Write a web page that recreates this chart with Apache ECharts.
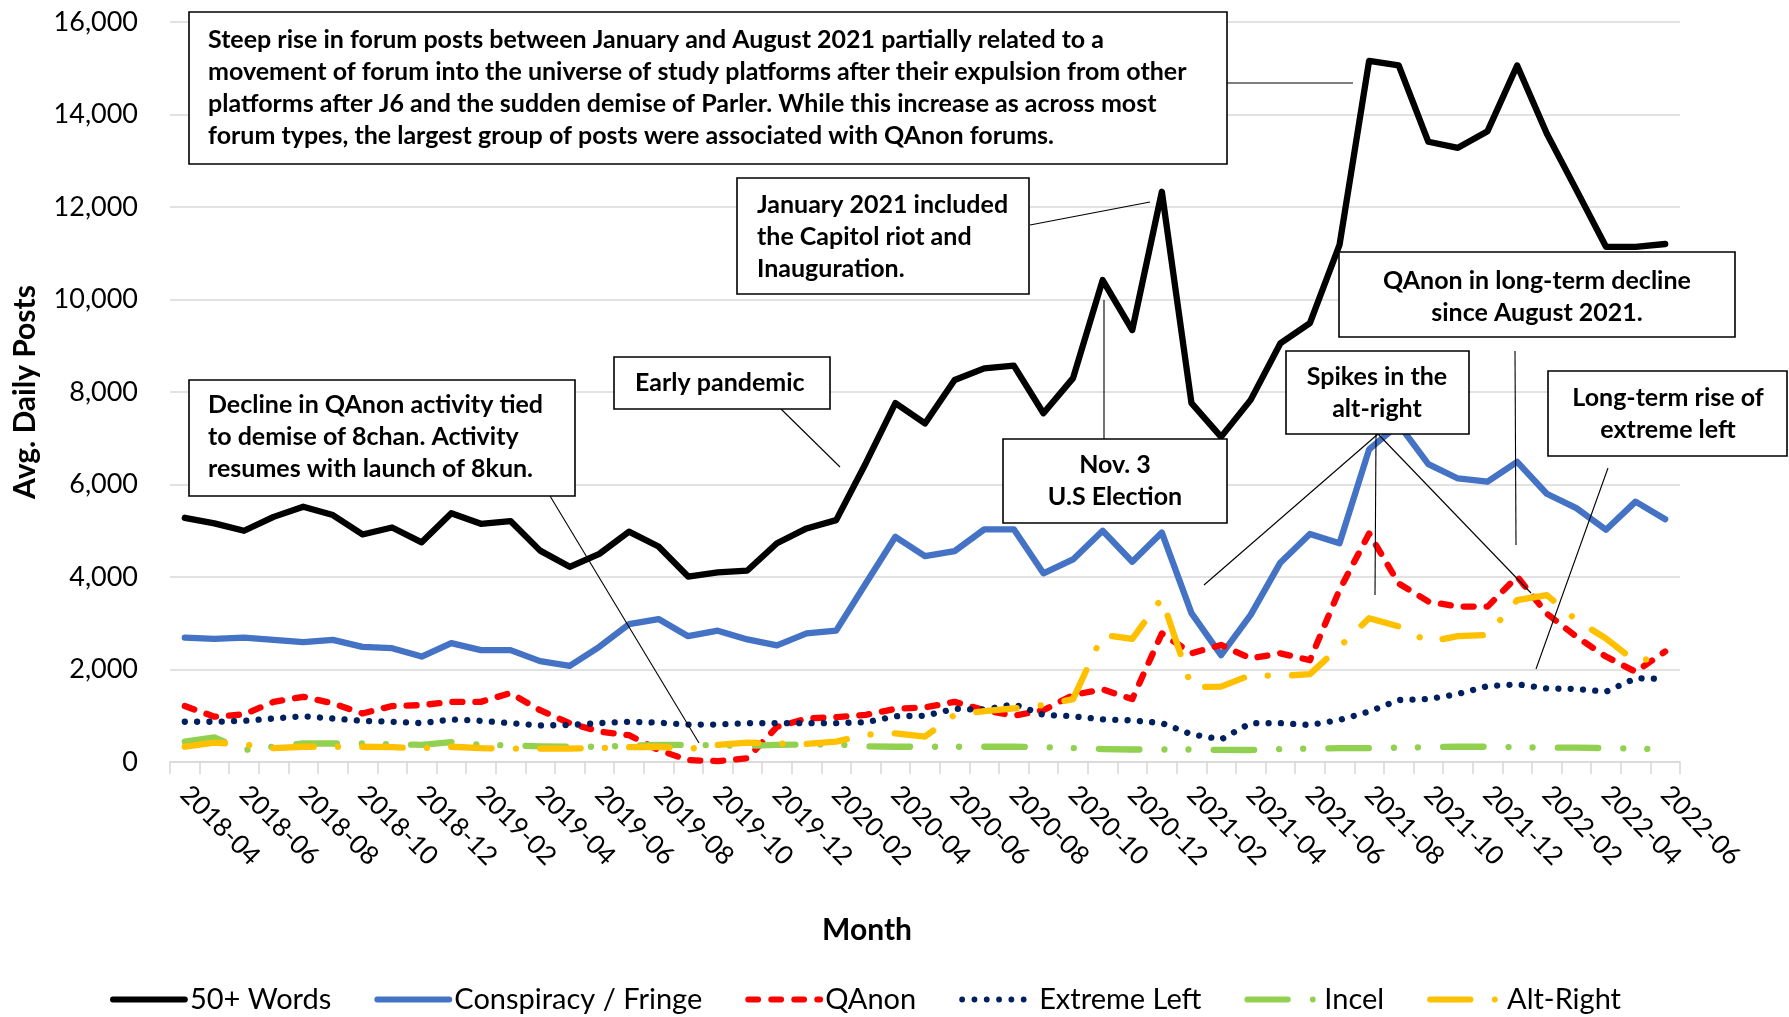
<!DOCTYPE html>
<html>
<head>
<meta charset="utf-8">
<title>Avg. Daily Posts by Month</title>
<script src="https://cdn.jsdelivr.net/npm/echarts@6/dist/echarts.min.js"></script>
<style>
    html, body { margin: 0; padding: 0; background: #fff; }
    #main { width: 1789px; height: 1017px; }
</style>
</head>
<body>
<div id="main"></div>
<script>
// categories: one per month
var months = [
    '2018-04', '2018-05', '2018-06', '2018-07', '2018-08', '2018-09', '2018-10', '2018-11', '2018-12',
    '2019-01', '2019-02', '2019-03', '2019-04', '2019-05', '2019-06', '2019-07', '2019-08', '2019-09',
    '2019-10', '2019-11', '2019-12', '2020-01', '2020-02', '2020-03', '2020-04', '2020-05', '2020-06',
    '2020-07', '2020-08', '2020-09', '2020-10', '2020-11', '2020-12', '2021-01', '2021-02', '2021-03',
    '2021-04', '2021-05', '2021-06', '2021-07', '2021-08', '2021-09', '2021-10', '2021-11', '2021-12',
    '2022-01', '2022-02', '2022-03', '2022-04', '2022-05', '2022-06'
];

// avg. daily posts per series
var words50 = [5280, 5160, 5000, 5300, 5520, 5340, 4920, 5070, 4750, 5380, 5150, 5210, 4570, 4220, 4500, 4980, 4660,
    4010, 4100, 4140, 4730, 5050, 5230, 6460, 7760, 7320, 8260, 8510, 8570, 7540, 8300, 10420, 9340, 12330, 7760,
    7030, 7830, 9050, 9490, 11180, 15160, 15060, 13410, 13280, 13640, 15060, 13590, 12370, 11140, 11140, 11200];
var conspiracy = [2690, 2660, 2690, 2640, 2590, 2640, 2490, 2460, 2280, 2570, 2420, 2420, 2180, 2080, 2490, 2980, 3090,
    2720, 2840, 2650, 2520, 2780, 2840, 3860, 4870, 4450, 4560, 5030, 5030, 4080, 4380, 5000, 4330, 4960, 3220,
    2310, 3180, 4310, 4930, 4730, 6760, 7300, 6440, 6130, 6060, 6490, 5800, 5490, 5020, 5630, 5250];
var qanon = [1210, 980, 1030, 1300, 1410, 1270, 1050, 1210, 1230, 1300, 1300, 1490, 1120, 840, 660, 580, 260,
    40, 20, 80, 760, 940, 970, 1020, 1150, 1180, 1300, 1120, 1000, 1120, 1450, 1570, 1360, 2780, 2350,
    2530, 2240, 2350, 2200, 3720, 4940, 3860, 3470, 3360, 3360, 4010, 3210, 2710, 2280, 1950, 2390];
var extremeLeft = [870, 870, 890, 940, 990, 940, 890, 870, 840, 920, 890, 840, 790, 800, 840, 870, 850,
    810, 810, 840, 840, 840, 840, 860, 990, 1000, 1150, 1130, 1250, 1020, 990, 920, 900, 840, 600,
    490, 840, 840, 800, 910, 1090, 1340, 1360, 1470, 1640, 1680, 1590, 1580, 1520, 1810, 1800];
var incel = [440, 530, 260, 330, 400, 400, 400, 380, 370, 430, 370, 360, 340, 330, 330, 350, 370,
    370, 360, 350, 370, 380, 380, 340, 330, 330, 330, 330, 330, 320, 300, 280, 270, 270, 270,
    260, 260, 280, 290, 300, 300, 310, 320, 330, 330, 320, 310, 310, 300, 290, 270];
var altRight = [330, 420, 380, 300, 330, 330, 330, 320, 300, 330, 300, 290, 290, 290, 300, 320, 330,
    280, 370, 420, 400, 390, 440, 590, 620, 550, 1020, 1100, 1160, 1230, 1360, 2750, 2660, 3540, 1620,
    1630, 1880, 1860, 1900, 2490, 3110, 2930, 2600, 2720, 2750, 3500, 3610, 3070, 2670, 2170, 2300];

var yTicks = [0, 2000, 4000, 6000, 8000, 10000, 12000, 14000, 16000];

var FONT = 'Lato, "Noto Sans", sans-serif';
var LINE_W = 6.3;

function lineSeries(name, data, color, dash) {
    return {
        name: name,
        type: 'line',
        data: data,
        symbol: 'none',
        smooth: false,
        lineStyle: { color: color, width: LINE_W, type: dash, cap: 'round', join: 'round' },
        itemStyle: { color: color }
    };
}

function box(x, y, w, h) {
    return {
        type: 'rect', z: 100,
        shape: { x: x, y: y, width: w, height: h },
        style: { fill: '#fff', stroke: '#000', lineWidth: 1.6 }
    };
}

function note(x, y, text, align) {
    return {
        type: 'text', z: 101, x: x, y: y,
        style: {
            text: text, fill: '#000', fontFamily: FONT, fontWeight: 'bold', fontSize: 25,
            lineHeight: 32, align: align, verticalAlign: 'middle'
        }
    };
}

function leader(x1, y1, x2, y2) {
    return {
        type: 'line', z: 99,
        shape: { x1: x1, y1: y1, x2: x2, y2: y2 },
        style: { stroke: '#000', lineWidth: 1.1 }
    };
}

var myChart = echarts.init(document.getElementById('main'));

var option = {
    backgroundColor: '#fff',
    animation: false,
    textStyle: { fontFamily: FONT },
    grid: { left: 170, right: 109, top: 22, bottom: 255 },
    legend: {
        left: 105, top: 980,
        itemWidth: 72, itemHeight: 20, itemGap: 43,
        itemStyle: { opacity: 0 },
        lineStyle: { width: 5.8 },
        textStyle: { fontSize: 29, color: '#000', fontFamily: FONT },
        data: ['50+ Words', 'Conspiracy / Fringe', 'QAnon', 'Extreme Left', 'Incel', 'Alt-Right']
    },
    xAxis: {
        type: 'category',
        data: months,
        boundaryGap: true,
        axisLine: { lineStyle: { color: '#d9d9d9', width: 1.6 } },
        axisTick: { show: true, interval: 0, length: 12, lineStyle: { color: '#d9d9d9', width: 1.6 } },
        axisLabel: { interval: 1, rotate: -45, margin: 28, fontSize: 26, color: '#000', fontFamily: FONT }
    },
    yAxis: {
        type: 'value',
        min: yTicks[0],
        max: yTicks[yTicks.length - 1],
        interval: 2000,
        axisLine: { show: false },
        axisTick: { show: false },
        splitLine: { lineStyle: { color: '#d9d9d9', width: 1.6 } },
        axisLabel: {
            margin: 32, fontSize: 27, color: '#000', fontFamily: FONT,
            formatter: function (v) { return v.toLocaleString('en-US'); }
        }
    },
    series: [
        lineSeries('50+ Words', words50, '#000000', 'solid'),
        lineSeries('Conspiracy / Fringe', conspiracy, '#4472c4', 'solid'),
        lineSeries('QAnon', qanon, '#ff0000', [10, 13]),
        lineSeries('Extreme Left', extremeLeft, '#002060', [0.01, 12.3]),
        lineSeries('Incel', incel, '#92d050', [40.5, 25, 0.01, 24, 0.01, 25.2]),
        lineSeries('Alt-Right', altRight, '#ffc000', [40.5, 24.25, 0.01, 24.25])
    ],
    graphic: [
        // axis titles
        {
            type: 'text', x: 25, y: 392, rotation: Math.PI / 2,
            style: { text: 'Avg. Daily Posts', fontFamily: FONT, fontWeight: 'bold', fontSize: 30, fill: '#000', align: 'center', verticalAlign: 'middle' }
        },
        {
            type: 'text', x: 867, y: 930,
            style: { text: 'Month', fontFamily: FONT, fontWeight: 'bold', fontSize: 30, fill: '#000', align: 'center', verticalAlign: 'middle' }
        },

        // leader lines
        leader(1227, 83, 1353, 83),
        leader(1030, 225, 1150, 202),
        leader(781, 409, 840, 467),
        leader(550, 496, 699, 743),
        leader(1104, 300, 1104, 439),
        leader(1515, 351, 1516, 545),
        leader(1378, 434, 1204, 585),
        leader(1376, 434, 1375, 595),
        leader(1378, 434, 1531, 593),
        leader(1608, 468, 1536, 669),

        // callout boxes
        box(189, 12, 1038, 152),
        note(208, 88, 'Steep rise in forum posts between January and August 2021 partially related to a\n' +
            'movement of forum into the universe of study platforms after their expulsion from other\n' +
            'platforms after J6 and the sudden demise of Parler. While this increase as across most\n' +
            'forum types, the largest group of posts were associated with QAnon forums.', 'left'),
        box(737, 178, 292, 116),
        note(757, 237, 'January 2021 included\nthe Capitol riot and\nInauguration.', 'left'),
        box(614, 357, 216, 52),
        note(635, 383, 'Early pandemic', 'left'),
        box(189, 380, 386, 116),
        note(208, 437, 'Decline in QAnon activity tied\nto demise of 8chan. Activity\nresumes with launch of 8kun.', 'left'),
        box(1003, 439, 224, 84),
        note(1115, 481, 'Nov. 3\nU.S Election', 'center'),
        box(1339, 252, 396, 85),
        note(1537, 297, 'QAnon in long-term decline\nsince August 2021.', 'center'),
        box(1286, 351, 183, 83),
        note(1377, 393, 'Spikes in the\nalt-right', 'center'),
        box(1548, 371, 239, 85),
        note(1668, 414, 'Long-term rise of\nextreme left', 'center')
    ]
};

myChart.setOption(option);
</script>
</body>
</html>
